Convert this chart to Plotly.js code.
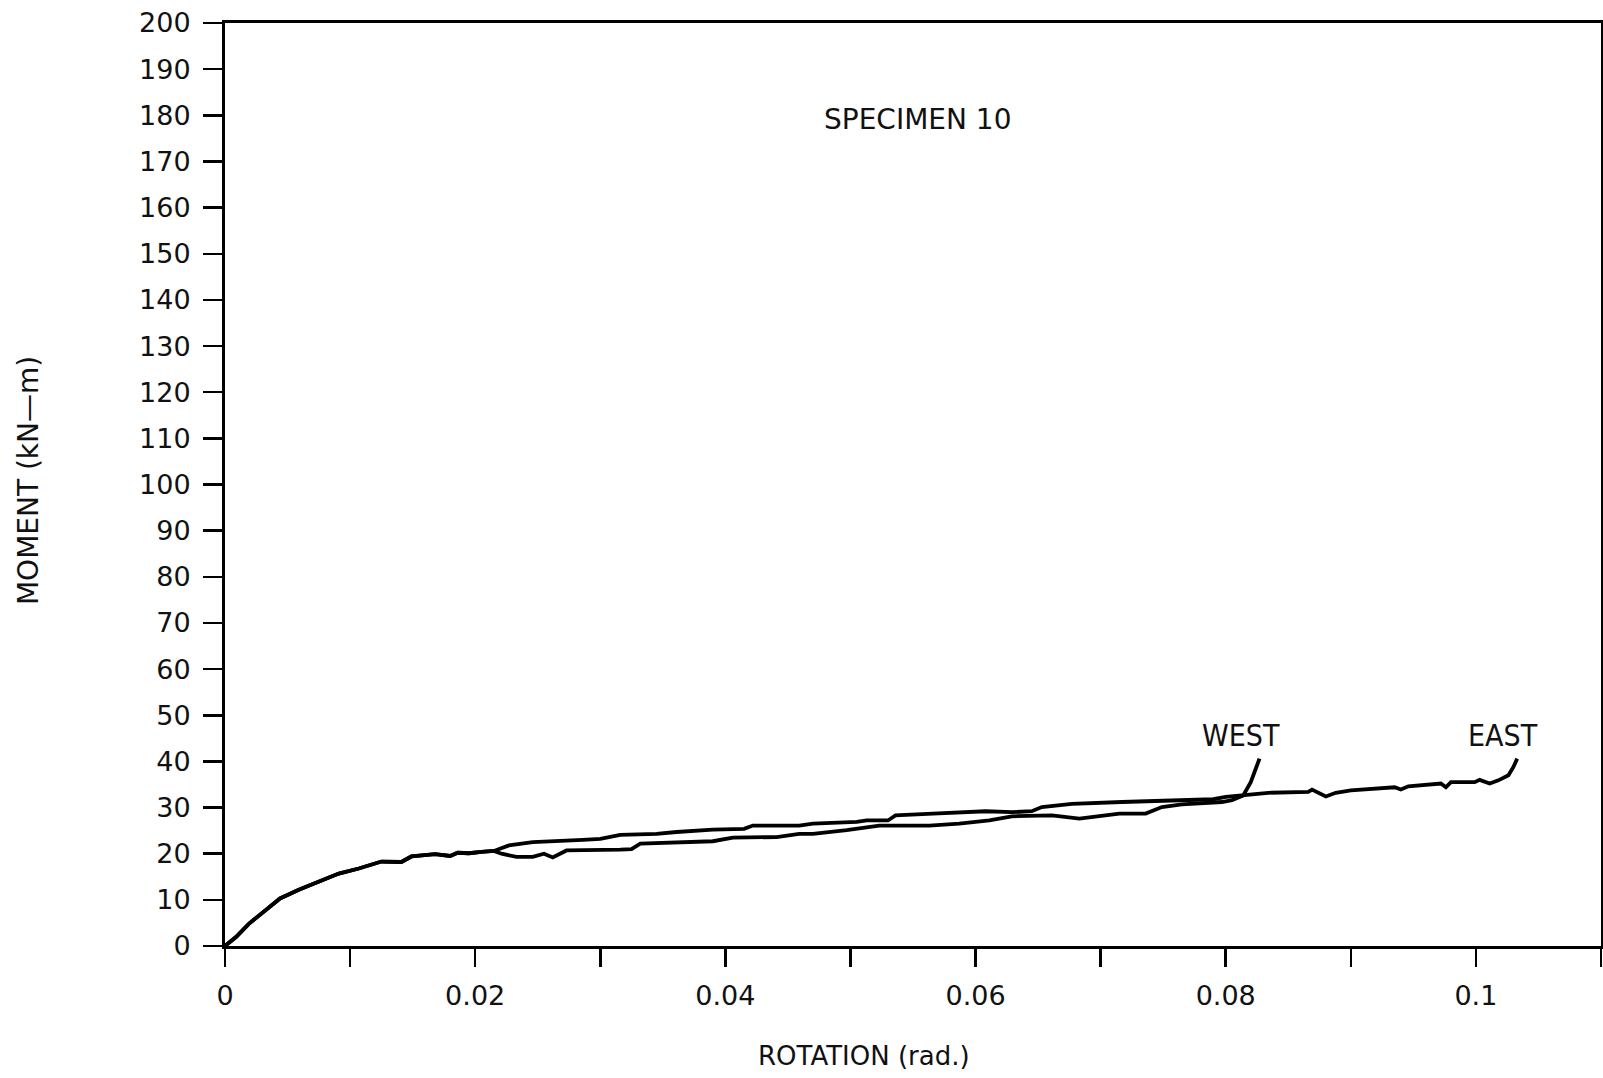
<!DOCTYPE html>
<html>
<head>
<meta charset="utf-8">
<script src="https://cdn.plot.ly/plotly-3.0.1.min.js"></script>
<style>html,body{margin:0;padding:0;background:#fff;}#chart{width:1603px;height:1078px;}</style>
</head>
<body>
<div id="chart"></div>
<script>
// Shared initial loading branch (both sides)
const sharedRot = [0, 0.0009, 0.0019, 0.003, 0.0038, 0.0044, 0.0059, 0.0078, 0.0091, 0.0107, 0.0125, 0.0141, 0.0149, 0.0168, 0.0180, 0.0186, 0.0195, 0.0205, 0.0215];
const sharedMom = [0, 2.0, 4.8, 7.3, 9.2, 10.3, 12.2, 14.4, 15.7, 16.8, 18.3, 18.2, 19.4, 19.9, 19.5, 20.2, 20.1, 20.4, 20.6];

// EAST (upper branch, continues to ~0.103 rad)
const eastRot = [0.0227, 0.0246, 0.0286, 0.0300, 0.0316, 0.0345, 0.0361, 0.0390, 0.0415, 0.0422, 0.0459, 0.0470, 0.0505, 0.0513, 0.0530, 0.0536, 0.0566, 0.0608, 0.0629, 0.0645, 0.0653, 0.0677, 0.0717, 0.0762, 0.0790, 0.0800, 0.0813, 0.0834, 0.0866, 0.0869, 0.0880, 0.0888, 0.0900, 0.0935, 0.0940, 0.0946, 0.0972, 0.0976, 0.0980, 0.0999, 0.1003, 0.1011, 0.1018, 0.1026, 0.1030, 0.1033];
const eastMom = [21.8, 22.5, 23.0, 23.2, 24.1, 24.3, 24.7, 25.2, 25.4, 26.1, 26.1, 26.5, 26.9, 27.2, 27.2, 28.3, 28.7, 29.2, 29.0, 29.2, 30.1, 30.8, 31.2, 31.6, 31.8, 32.3, 32.6, 33.2, 33.4, 33.9, 32.4, 33.2, 33.7, 34.4, 33.9, 34.6, 35.2, 34.4, 35.5, 35.5, 36.0, 35.2, 35.9, 37.0, 38.8, 40.6];

// WEST (lower branch, ends ~0.083 rad)
const westRot = [0.0221, 0.0233, 0.0246, 0.0255, 0.0262, 0.0273, 0.0316, 0.0325, 0.0332, 0.0358, 0.0390, 0.0406, 0.0441, 0.0459, 0.0470, 0.0497, 0.0523, 0.0563, 0.0587, 0.0611, 0.0629, 0.0661, 0.0683, 0.0715, 0.0736, 0.0749, 0.0765, 0.0797, 0.0805, 0.0814, 0.0820, 0.0827];
const westMom = [20.0, 19.3, 19.3, 20.0, 19.2, 20.7, 20.9, 21.0, 22.2, 22.5, 22.7, 23.5, 23.6, 24.3, 24.3, 25.1, 26.1, 26.1, 26.5, 27.2, 28.1, 28.3, 27.6, 28.7, 28.7, 30.1, 30.7, 31.2, 31.6, 32.6, 35.5, 40.6];

const xTickVals = [0, 0.01, 0.02, 0.03, 0.04, 0.05, 0.06, 0.07, 0.08, 0.09, 0.1, 0.11];
const xTickText = ["0", "", "0.02", "", "0.04", "", "0.06", "", "0.08", "", "0.1", ""];
const yTickVals = [0,10,20,30,40,50,60,70,80,90,100,110,120,130,140,150,160,170,180,190,200];
const yTickText = yTickVals.map(String);

const lineStyle = {color: '#000', width: 3.8};
const traces = [
  {x: sharedRot.concat(eastRot), y: sharedMom.concat(eastMom), mode: 'lines', line: lineStyle, name: 'EAST'},
  {x: sharedRot.concat(westRot), y: sharedMom.concat(westMom), mode: 'lines', line: lineStyle, name: 'WEST'}
];

const font = 'DejaVu Sans, sans-serif';
const narrow = 'Liberation Sans Narrow, DejaVu Sans Condensed, Arial Narrow, sans-serif';
const layout = {
  width: 1603, height: 1078,
  margin: {l: 225, r: 2, t: 23, b: 132},
  paper_bgcolor: '#fff', plot_bgcolor: '#fff',
  showlegend: false,
  xaxis: {
    range: [0, 0.11], tickvals: xTickVals, ticktext: xTickText,
    ticks: 'outside', ticklen: 18, tickwidth: 2.5, tickcolor: '#000',
    showline: true, linewidth: 3, linecolor: '#000', mirror: true,
    showgrid: false, zeroline: false, ticklabelstandoff: 6,
    tickfont: {family: font, size: 27, color: '#111'}
  },
  yaxis: {
    range: [0, 200], tickvals: yTickVals, ticktext: yTickText,
    ticks: 'outside', ticklen: 19, tickwidth: 2.5, tickcolor: '#000',
    showline: true, linewidth: 3, linecolor: '#000', mirror: true,
    showgrid: false, zeroline: false, ticklabelstandoff: 7,
    tickfont: {family: font, size: 27, color: '#111'}
  },
  annotations: [
    {text: 'SPECIMEN 10', xref: 'paper', yref: 'paper', x: 0.503, y: 0.895, xanchor: 'center', yanchor: 'middle', showarrow: false,
     font: {family: font, size: 28, color: '#111'}},
    {text: 'ROTATION (rad.)', xref: 'paper', yref: 'paper', x: 0.4644, y: -0.119, xanchor: 'center', yanchor: 'middle', showarrow: false,
     font: {family: font, size: 26, color: '#111'}},
    {text: 'MOMENT (kN\u2014m)', xref: 'paper', yref: 'paper', x: -0.1424, y: 0.5038, xanchor: 'center', yanchor: 'middle', textangle: -90, showarrow: false,
     font: {family: font, size: 28, color: '#111'}},
    {text: 'WEST', xref: 'x', yref: 'y', x: 0.08126, y: 45.65, xanchor: 'center', yanchor: 'middle', showarrow: false,
     font: {family: narrow, size: 30, color: '#111'}},
    {text: 'EAST', xref: 'x', yref: 'y', x: 0.10215, y: 45.65, xanchor: 'center', yanchor: 'middle', showarrow: false,
     font: {family: narrow, size: 30, color: '#111'}}
  ]
};

Plotly.newPlot('chart', traces, layout, {staticPlot: true, displayModeBar: false});
</script>
</body>
</html>
